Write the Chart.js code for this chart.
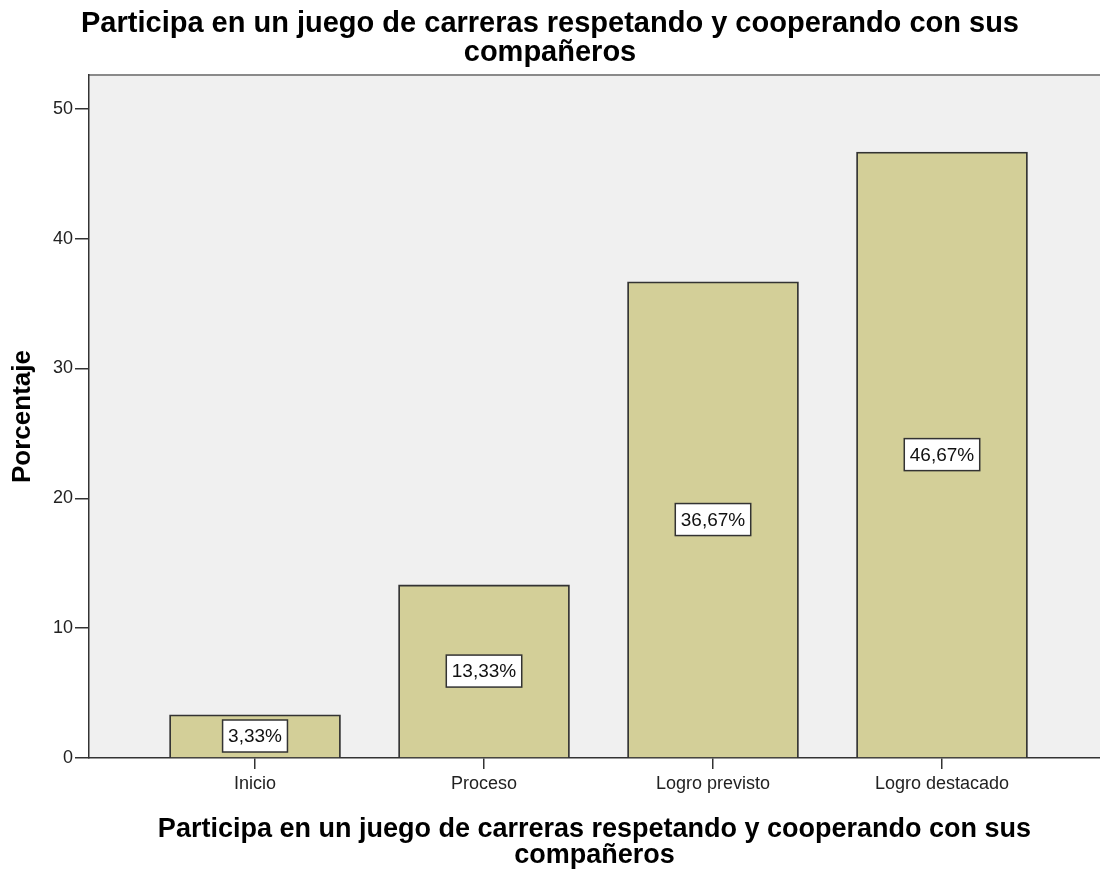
<!DOCTYPE html>
<html>
<head>
<meta charset="utf-8">
<script src="https://cdn.jsdelivr.net/npm/chart.js@4.4.0/dist/chart.umd.min.js"></script>
<style>
  html, body { margin: 0; padding: 0; background: #ffffff; }
  #wrap { width: 1100px; height: 869px; position: relative; }
</style>
</head>
<body>
<div id="wrap"><canvas id="c" width="1100" height="869"></canvas></div>
<script>
const chartTitle = ["Participa en un juego de carreras respetando y cooperando con sus", "compañeros"];
const xTitle = ["Participa en un juego de carreras respetando y cooperando con sus", "compañeros"];
const yTitle = "Porcentaje";
const categories = ["Inicio", "Proceso", "Logro previsto", "Logro destacado"];
const percentages = [3.33, 13.33, 36.67, 46.67];
const valueLabels = ["3,33%", "13,33%", "36,67%", "46,67%"];
const yTicks = [0, 10, 20, 30, 40, 50];

const FONT = 'Arial, "Liberation Sans", sans-serif';

const plotBg = {
  id: 'plotBg',
  beforeDraw(chart) {
    const { ctx, chartArea: a } = chart;
    ctx.save();
    ctx.fillStyle = '#f0f0f0';
    ctx.fillRect(a.left, a.top, a.right - a.left, a.bottom - a.top);
    ctx.strokeStyle = '#8a8a8a';
    ctx.lineWidth = 2;
    ctx.beginPath();
    ctx.moveTo(a.left, a.top);
    ctx.lineTo(a.right, a.top);
    ctx.stroke();
    ctx.restore();
  }
};

const barLabels = {
  id: 'barLabels',
  afterDatasetsDraw(chart) {
    const { ctx } = chart;
    const meta = chart.getDatasetMeta(0);
    ctx.save();
    ctx.font = '19px ' + FONT;
    ctx.textAlign = 'center';
    ctx.textBaseline = 'middle';
    meta.data.forEach((bar, i) => {
      const text = valueLabels[i];
      const cx = bar.x;
      const cy = (bar.y + bar.base) / 2;
      const w = ctx.measureText(text).width + 11;
      const h = 32;
      ctx.fillStyle = '#ffffff';
      ctx.fillRect(cx - w / 2, cy - h / 2, w, h);
      ctx.strokeStyle = '#333333';
      ctx.lineWidth = 1.5;
      ctx.strokeRect(cx - w / 2, cy - h / 2, w, h);
      ctx.fillStyle = '#111111';
      ctx.fillText(text, cx, cy + 1);
    });
    ctx.restore();
  }
};

new Chart(document.getElementById('c'), {
  type: 'bar',
  data: {
    datasets: [{
      data: percentages.map((v, i) => ({ x: i, y: v })),
      backgroundColor: '#d3cf98',
      borderColor: '#333333',
      borderWidth: 1.8,
      barThickness: 171
    }]
  },
  options: {
    responsive: false,
    animation: false,
    layout: { padding: { left: 0, right: 0, top: 0, bottom: 0 } },
    plugins: {
      legend: { display: false },
      tooltip: { enabled: false },
      title: {
        display: true,
        text: chartTitle,
        color: '#000000',
        font: { family: FONT, size: 29, weight: 'bold', lineHeight: '29px' },
        padding: { top: 9, bottom: 8 }
      }
    },
    scales: {
      x: {
        type: 'linear',
        offset: false,
        min: -0.725,
        max: 3.69,
        afterBuildTicks(scale) { scale.ticks = categories.map((c, i) => ({ value: i })); },
        afterFit(scale) { scale.height = 111; },
        ticks: {
          callback: (v) => categories[v] ?? '',
          color: '#222222',
          font: { family: FONT, size: 18 },
          padding: 4,
          maxRotation: 0,
          autoSkip: false
        },
        grid: { display: true, offset: false, drawOnChartArea: false, drawTicks: true, tickLength: 11, color: '#333333', lineWidth: 1.5 },
        border: { display: true, color: '#333333', width: 1.5 },
        title: {
          display: true,
          text: xTitle,
          color: '#000000',
          font: { family: FONT, size: 27, weight: 'bold', lineHeight: '26px' },
          padding: { top: 0, bottom: 0 }
        }
      },
      y: {
        type: 'linear',
        min: 0,
        max: 52.6,
        afterBuildTicks(scale) { scale.ticks = yTicks.map(v => ({ value: v })); },
        afterFit(scale) { scale.width = 89; },
        ticks: {
          color: '#222222',
          font: { family: FONT, size: 18 },
          padding: 2
        },
        grid: { display: true, drawOnChartArea: false, drawTicks: true, tickLength: 14, color: '#333333', lineWidth: 1.5 },
        border: { display: true, color: '#333333', width: 1.5 },
        title: {
          display: true,
          text: yTitle,
          color: '#000000',
          font: { family: FONT, size: 26, weight: 'bold', lineHeight: '26px' },
          padding: { top: 10, bottom: 0 }
        }
      }
    }
  },
  plugins: [plotBg, barLabels]
});
</script>
</body>
</html>
